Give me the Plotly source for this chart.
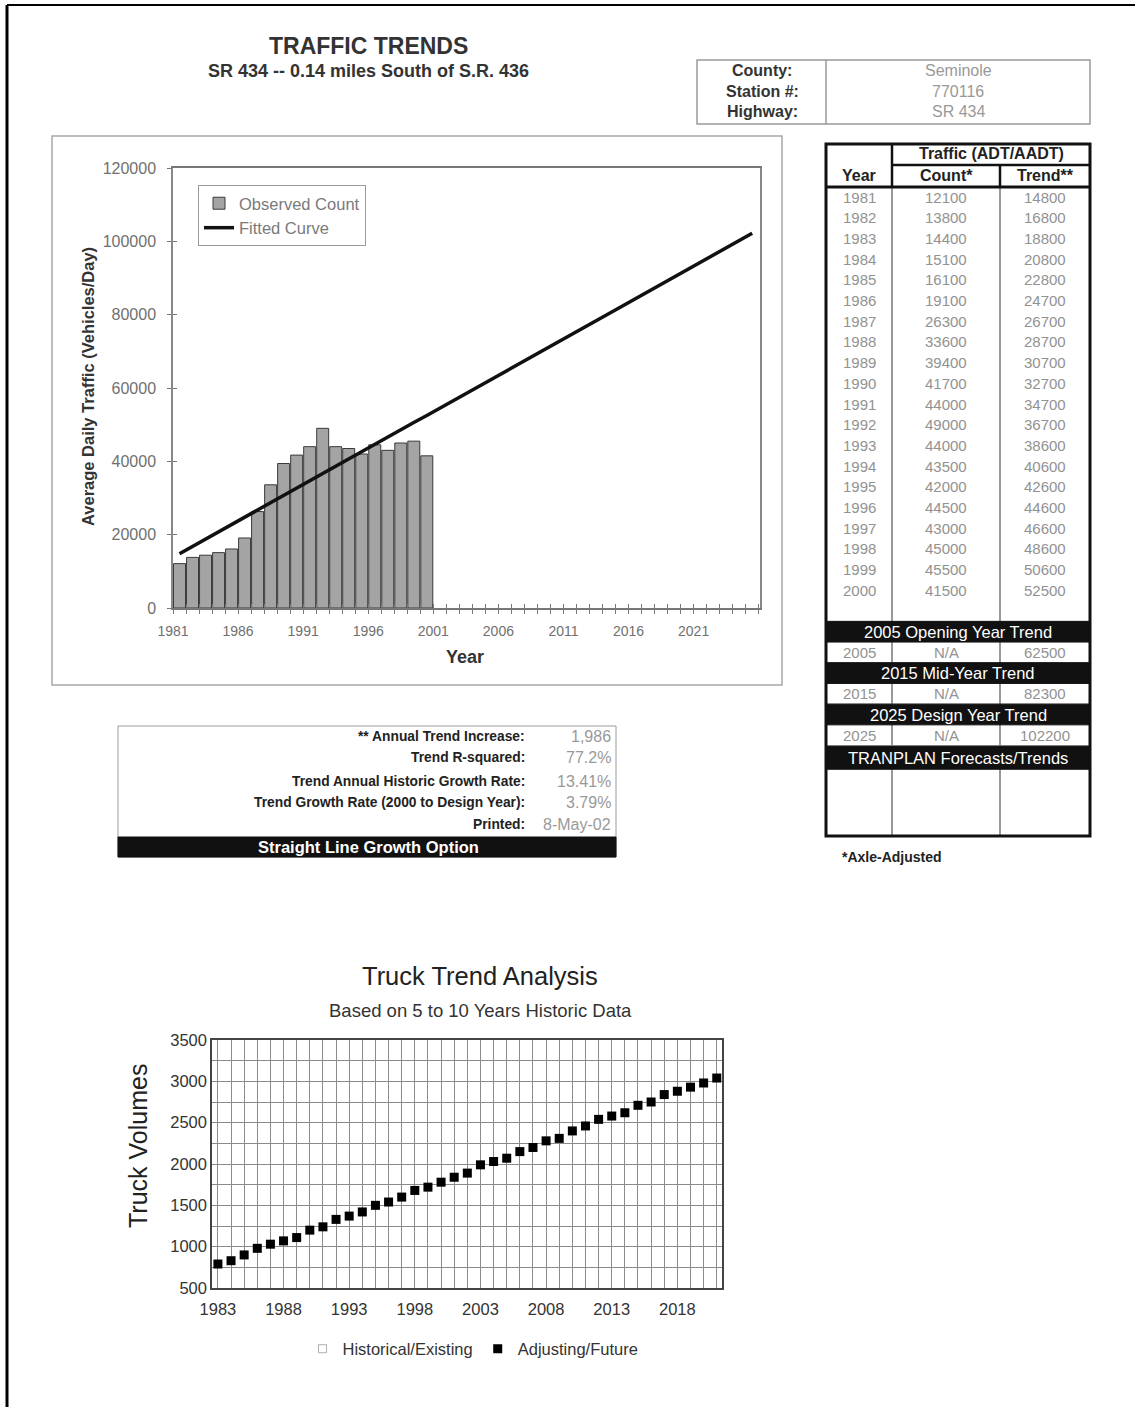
import plotly.graph_objects as go

W, H = 1142, 1407
FONT = "Liberation Sans, Arial, sans-serif"

# ---------------- data ----------------
page_title = "TRAFFIC TRENDS"
page_subtitle = "SR 434 -- 0.14 miles South of S.R. 436"

info_labels = ["County:", "Station #:", "Highway:"]
info_values = ["Seminole", "770116", "SR 434"]

years = [1981, 1982, 1983, 1984, 1985, 1986, 1987, 1988, 1989, 1990,
         1991, 1992, 1993, 1994, 1995, 1996, 1997, 1998, 1999, 2000]
counts = [12100, 13800, 14400, 15100, 16100, 19100, 26300, 33600, 39400, 41700,
          44000, 49000, 44000, 43500, 42000, 44500, 43000, 45000, 45500, 41500]
trends = [14800, 16800, 18800, 20800, 22800, 24700, 26700, 28700, 30700, 32700,
          34700, 36700, 38600, 40600, 42600, 44600, 46600, 48600, 50600, 52500]

forecast_titles = ["2005 Opening Year Trend", "2015 Mid-Year Trend", "2025 Design Year Trend"]
forecast_years = [2005, 2015, 2025]
forecast_counts = ["N/A", "N/A", "N/A"]
forecast_trends = [62500, 82300, 102200]
tranplan_title = "TRANPLAN Forecasts/Trends"

table_header_top = "Traffic (ADT/AADT)"
table_headers = ["Year", "Count*", "Trend**"]
footnote = "*Axle-Adjusted"

x_tick_years = [1981, 1986, 1991, 1996, 2001, 2006, 2011, 2016, 2021]
x_tick_labels = ["1981", "1986", "1991", "1996", "2001", "2006", "2011", "2016", "2021"]
y_ticks = [0, 20000, 40000, 60000, 80000, 100000, 120000]

stats_labels = ["** Annual Trend Increase:", "Trend R-squared:",
                "Trend Annual Historic Growth Rate:",
                "Trend Growth Rate (2000 to Design Year):", "Printed:"]
stats_values = ["1,986", "77.2%", "13.41%", "3.79%", "8-May-02"]
option_label = "Straight Line Growth Option"

truck_title = "Truck Trend Analysis"
truck_subtitle = "Based on 5 to 10 Years Historic Data"
truck_years = [1983, 1984, 1985, 1986, 1987, 1988, 1989, 1990, 1991, 1992,
               1993, 1994, 1995, 1996, 1997, 1998, 1999, 2000, 2001, 2002,
               2003, 2004, 2005, 2006, 2007, 2008, 2009, 2010, 2011, 2012,
               2013, 2014, 2015, 2016, 2017, 2018, 2019, 2020, 2021]
truck_values = [790, 830, 900, 980, 1030, 1070, 1110, 1200, 1240, 1330,
                1370, 1420, 1500, 1540, 1600, 1680, 1720, 1780, 1840, 1890,
                1990, 2030, 2070, 2150, 2200, 2280, 2310, 2400, 2460, 2540,
                2580, 2620, 2710, 2750, 2840, 2880, 2930, 2980, 3040]
# historical series has no values shown on the chart
truck_historic_years = [1983]
truck_historic_values = [None]
truck_tick_years = [1983, 1988, 1993, 1998, 2003, 2008, 2013, 2018]
truck_tick_labels = ["1983", "1988", "1993", "1998", "2003", "2008", "2013", "2018"]
truck_y_ticks = [500, 1000, 1500, 2000, 2500, 3000, 3500]


# ---------------- helpers ----------------
def X(px):
    return px / W


def Y(py):
    return 1 - py / H


shapes = []
annotations = []


def line(x0, y0, x1, y1, color="black", width=1):
    shapes.append(dict(type="line", xref="paper", yref="paper",
                       x0=X(x0), y0=Y(y0), x1=X(x1), y1=Y(y1),
                       line=dict(color=color, width=width)))


def rect(x0, y0, x1, y1, color="black", width=1, fill=None):
    d = dict(type="rect", xref="paper", yref="paper",
             x0=X(x0), y0=Y(y0), x1=X(x1), y1=Y(y1),
             line=dict(color=color, width=width))
    if fill:
        d["fillcolor"] = fill
    shapes.append(d)


def text(s, x, y, size=13, color="#222", bold=False, xanchor="center",
         angle=0, family=FONT):
    annotations.append(dict(text=f"<b>{s}</b>" if bold else s, xref="paper",
                            yref="paper", x=X(x), y=Y(y), xanchor=xanchor,
                            yanchor="middle", showarrow=False, textangle=angle,
                            font=dict(size=size, color=color, family=family)))


fig = go.Figure()

# ---------------- top chart ----------------
fig.add_trace(go.Bar(
    x=years, y=counts, offset=0.04, width=0.92, name="Observed Count",
    marker=dict(color="#a4a4a4", line=dict(color="#3a3a3a", width=1)),
    xaxis="x", yaxis="y", legend="legend"))
fit_x = [yv + 0.5 for yv in years + forecast_years]
fit_y = trends + forecast_trends
fig.add_trace(go.Scatter(
    x=fit_x, y=fit_y, mode="lines", name="Fitted Curve",
    line=dict(color="#111", width=3.5), xaxis="x", yaxis="y", legend="legend"))
# invisible trace for cross-tick overlay axes
fig.add_trace(go.Scatter(x=years, y=counts, mode="lines", opacity=0,
                         line=dict(width=0), showlegend=False, hoverinfo="skip",
                         xaxis="x3", yaxis="y3"))

top_dom_x = [X(173), X(760)]
top_dom_y = [Y(608), Y(168)]
xr = [1981, 2026.1]
yr = [0, 120000]

# ---------------- truck chart ----------------
fig.add_trace(go.Scatter(
    x=truck_historic_years, y=truck_historic_values, mode="markers",
    name="Historical/Existing",
    marker=dict(symbol="square-open", size=8, color="#b0b0b0", line=dict(width=1)),
    xaxis="x2", yaxis="y2", legend="legend2"))
fig.add_trace(go.Scatter(
    x=truck_years, y=truck_values, mode="markers", name="Adjusting/Future",
    marker=dict(symbol="square", size=9, color="black"),
    xaxis="x2", yaxis="y2", legend="legend2"))

# ---------------- texts ----------------
text(page_title, 368, 46, size=23, color="#333", bold=True)
text(page_subtitle, 368, 71, size=18, color="#333", bold=True)

# info box
rect(697, 60, 1090, 124, color="#9a9a9a", width=1.5)
line(826, 60, 826, 124, color="#9a9a9a", width=1.5)
for i, (lab, val) in enumerate(zip(info_labels, info_values)):
    yy = 71 + i * 20.5
    text(lab, 762, yy, size=16, color="#333", bold=True)
    text(val, 958, yy, size=16, color="#999")

# top chart outer frame
rect(52, 136, 782, 685, color="#a8a8a8", width=1.5)
text("Average Daily Traffic (Vehicles/Day)", 88, 387, size=16.5, color="#333",
     bold=True, angle=-90)
text("Year", 465, 657, size=18, color="#333", bold=True)

# main table
TL, TC1, TC2, TR = 826, 892, 1000, 1090
TT, TH1, TH2, TB = 144, 165, 187, 836
ROW0, RH = 197, 20.7

line(TC1, TH2, TC1, TB, color="#777", width=1.5)
line(TC2, TH2, TC2, TB, color="#777", width=1.5)

for i, (yv, c, t) in enumerate(zip(years, counts, trends)):
    yy = ROW0 + i * RH
    text(str(yv), 859, yy, size=15, color="#929292")
    text(str(c), 946, yy, size=15, color="#929292")
    text(str(t), 1045, yy, size=15, color="#929292")

band_idx = len(years) + 1
for k, (ft, fy, fc, fv) in enumerate(zip(forecast_titles, forecast_years,
                                           forecast_counts, forecast_trends)):
    by = ROW0 + (band_idx + 2 * k) * RH
    rect(TL, by - RH / 2, TR, by + RH / 2, color="#111", width=1, fill="#111")
    text(ft, (TL + TR) / 2, by, size=16.5, color="white")
    vy = by + RH
    line(TL, vy + RH / 2, TR, vy + RH / 2, color="#777", width=1)
    text(str(fy), 859, vy, size=15, color="#929292")
    text(fc, 946, vy, size=15, color="#929292")
    text(str(fv), 1045, vy, size=15, color="#929292")
by = ROW0 + (band_idx + 2 * len(forecast_titles)) * RH + 2
rect(TL, by - RH / 2 - 1, TR, by + RH / 2 + 1, color="#111", width=1, fill="#111")
text(tranplan_title, (TL + TR) / 2, by, size=16.5, color="white")

# header
line(TC1, TT, TC1, TH2, color="#111", width=2.5)
line(TC2, TH1, TC2, TH2, color="#111", width=2.5)
line(TC1, TH1, TR, TH1, color="#111", width=2.5)
line(TL, TH2, TR, TH2, color="#111", width=3)
rect(TL, TT, TR, TB, color="#111", width=3)
text(table_header_top, (TC1 + TR) / 2, 154, size=16, color="#222", bold=True)
text(table_headers[0], 859, 176, size=16, color="#222", bold=True)
text(table_headers[1], 946, 176, size=16, color="#222", bold=True)
text(table_headers[2], 1045, 176, size=16, color="#222", bold=True)
text(footnote, 840, 857, size=14, color="#222", bold=True, xanchor="left")

# stats box
rect(118, 726, 616, 857, color="#9a9a9a", width=1)
rect(118, 837, 616, 857, color="#111", width=1, fill="#111")
for i, (lab, val) in enumerate(zip(stats_labels, stats_values)):
    yy = [736, 758, 781, 802, 824][i]
    text(lab, 527, yy, size=13.8, color="#222", bold=True, xanchor="right")
    text(val, 613, yy, size=16, color="#999", xanchor="right")
text(option_label, 368, 847, size=16.5, color="white", bold=True)

# truck chart texts
text(truck_title, 480, 976, size=25.5, color="#222")
text(truck_subtitle, 480, 1010, size=18.5, color="#333")
text("Truck Volumes", 138, 1146, size=25, color="#222", angle=-90)

# page border
line(7, 5, 1135, 5, color="black", width=2)
line(7, 5, 7, H + 5, color="black", width=3)

fig.update_layout(
    template="none",
    width=W, height=H, autosize=False,
    margin=dict(l=0, r=0, t=0, b=0, pad=0, autoexpand=False),
    paper_bgcolor="white", plot_bgcolor="rgba(0,0,0,0)",
    font=dict(family=FONT),
    barmode="overlay", bargap=0.1,
    shapes=shapes, annotations=annotations,
    xaxis=dict(domain=top_dom_x, range=xr, anchor="y", automargin=False,
               tickvals=x_tick_years, ticktext=x_tick_labels,
               ticks="outside", ticklen=4, tickcolor="#777",
               ticklabelstandoff=5,
               minor=dict(dtick=1, tick0=1981, ticks="outside", ticklen=4,
                          tickcolor="#777", showgrid=False),
               showline=True, linecolor="#777", linewidth=1.5, mirror=True,
               showgrid=False, zeroline=False,
               tickfont=dict(size=14, color="#707070")),
    yaxis=dict(domain=top_dom_y, range=yr, anchor="x", automargin=False,
               tickvals=y_ticks, ticks="outside", ticklen=4, tickcolor="#777",
               ticklabelstandoff=8,
               showline=True, linecolor="#888", linewidth=1.5, mirror=True,
               showgrid=False, zeroline=False, tickformat="d",
               tickfont=dict(size=16, color="#707070")),
    xaxis3=dict(overlaying="x", anchor="y3", range=xr, domain=top_dom_x,
                automargin=False,
                tickmode="linear", tick0=1981, dtick=1, ticks="inside",
                ticklen=4, tickcolor="#777", showticklabels=False,
                showline=False, showgrid=False, zeroline=False),
    yaxis3=dict(overlaying="y", anchor="x3", range=yr, domain=top_dom_y,
                automargin=False,
                tickvals=y_ticks, ticks="inside", ticklen=4, tickcolor="#777",
                showticklabels=False, showline=False, showgrid=False,
                zeroline=False),
    xaxis2=dict(domain=[X(212), X(722)], range=[1982.55, 2021.4], anchor="y2",
                automargin=False,
                tickvals=truck_tick_years, ticktext=truck_tick_labels,
                ticks="", ticklabelstandoff=5,
                showgrid=True, gridcolor="#8a8a8a", gridwidth=1,
                minor=dict(dtick=1, tick0=1983, showgrid=True,
                           gridcolor="#8a8a8a", gridwidth=1),
                showline=True, linecolor="#444", linewidth=1.5, mirror=True,
                zeroline=False, tickfont=dict(size=16.5, color="#333")),
    yaxis2=dict(domain=[Y(1288), Y(1040)], range=[500, 3500], anchor="x2",
                automargin=False,
                tickvals=truck_y_ticks, ticks="", showgrid=True,
                gridcolor="#8a8a8a", gridwidth=1,
                minor=dict(dtick=250, tick0=500, showgrid=True,
                           gridcolor="#8a8a8a", gridwidth=1),
                showline=True, linecolor="#444", linewidth=1.5, mirror=True,
                zeroline=False, tickformat="d",
                tickfont=dict(size=16.5, color="#333")),
    legend=dict(x=X(198), y=Y(185), xanchor="left", yanchor="top",
                bordercolor="#9a9a9a", borderwidth=1, bgcolor="white",
                font=dict(size=16.5, color="#7a7a7a"), itemwidth=30,
                tracegroupgap=0),
    legend2=dict(orientation="h", x=X(473), y=Y(1349), xanchor="center",
                 yanchor="middle", bgcolor="rgba(0,0,0,0)",
                 font=dict(size=16.5, color="#333")),
)

fig.write_html("out.html",
               config={"displayModeBar": False},
               post_script="document.body.style.margin='0';"
                           "document.body.style.padding='0';")
